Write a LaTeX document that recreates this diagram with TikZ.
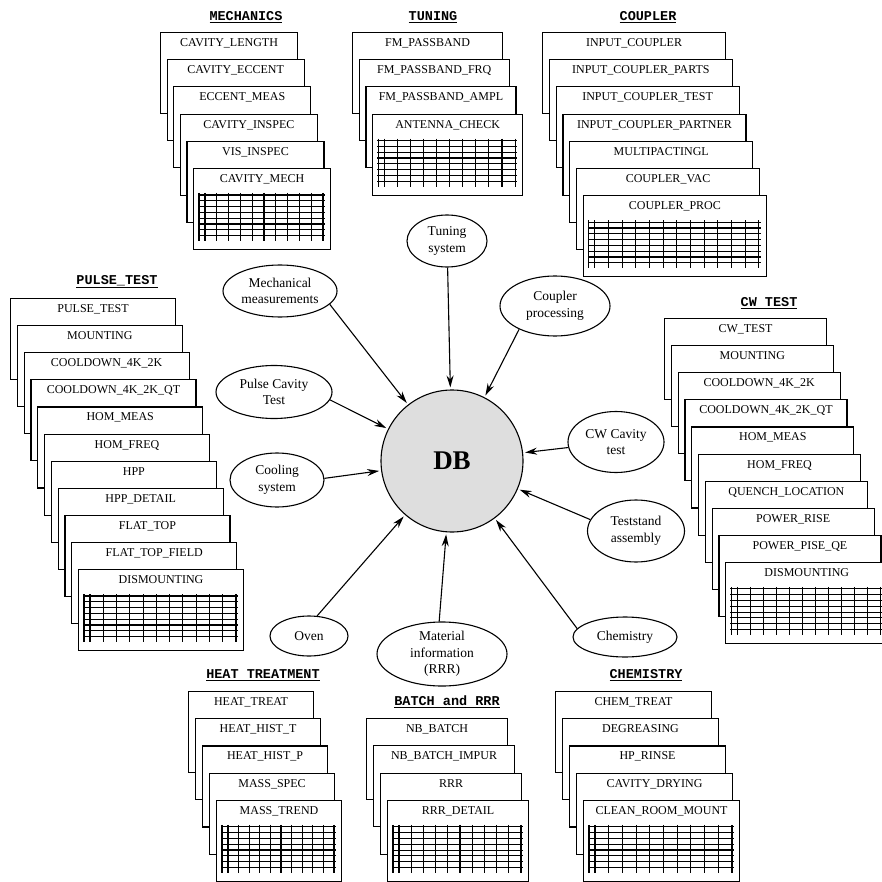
\documentclass[tikz,border=0pt]{standalone}
\usepackage{fontspec}
\setmainfont{Liberation Serif}
\newfontfamily\titlefont{Liberation Mono}
\usetikzlibrary{shapes.geometric, arrows.meta, positioning}

\begin{document}
\begin{tikzpicture}[x=1pt, y=-1pt,
    card/.style={draw, fill=white, line width=1.1pt, anchor=north west, inner sep=3pt,
      minimum height=81pt, text height=11pt, text depth=64pt,
      font=\fontsize{12}{13}\selectfont},
    heading/.style={font=\titlefont\bfseries\fontsize{13.5}{15}\selectfont},
    proc/.style={ellipse, draw, line width=1.1pt, inner sep=0pt, align=center,
      font=\fontsize{13.5}{16.5}\selectfont},
    grid line/.style={line width=1.1pt},
    feed/.style={-{Stealth[length=12pt, width=7pt]}, line width=1.1pt, shorten >=2pt}]
  \useasboundingbox (0,0) rectangle (881,882);

  \node[heading] (mechhead) at (246,17) {\underline{MECHANICS}};
  \foreach \lbl [count=\i from 0] in {CAVITY\_LENGTH, CAVITY\_ECCENT, ECCENT\_MEAS,
      CAVITY\_INSPEC, VIS\_INSPEC, CAVITY\_MECH}
    \node[card, minimum width=137pt] (mechcard\i) at ({160+6.6*\i}, {32+27.2*\i}) {\lbl};

  \node[heading] (tunehead) at (433,17) {\underline{TUNING}};
  \foreach \lbl [count=\i from 0] in {FM\_PASSBAND, FM\_PASSBAND\_FRQ, FM\_PASSBAND\_AMPL,
      ANTENNA\_CHECK}
    \node[card, minimum width=150pt] (tunecard\i) at ({352+6.7*\i}, {32+27.2*\i}) {\lbl};

  \node[heading] (couphead) at (648,17) {\underline{COUPLER}};
  \foreach \lbl [count=\i from 0] in {INPUT\_COUPLER, INPUT\_COUPLER\_PARTS,
      INPUT\_COUPLER\_TEST, INPUT\_COUPLER\_PARTNER, MULTIPACTINGL, COUPLER\_VAC,
      COUPLER\_PROC}
    \node[card, minimum width=183pt] (coupcard\i) at ({542+6.8*\i}, {32+27.2*\i}) {\lbl};

  \node[heading] (pulsehead) at (117,282) {\underline{PULSE\_TEST}};
  \foreach \lbl [count=\i from 0] in {PULSE\_TEST, MOUNTING, COOLDOWN\_4K\_2K,
      COOLDOWN\_4K\_2K\_QT, HOM\_MEAS, HOM\_FREQ, HPP, HPP\_DETAIL, FLAT\_TOP,
      FLAT\_TOP\_FIELD, DISMOUNTING}
    \node[card, minimum width=165pt] (pulsecard\i) at ({10+6.8*\i}, {298+27.1*\i}) {\lbl};

  \node[heading] (cwhead) at (769,303) {\underline{CW TEST}};
  \foreach \lbl [count=\i from 0] in {CW\_TEST, MOUNTING, COOLDOWN\_4K\_2K,
      COOLDOWN\_4K\_2K\_QT, HOM\_MEAS, HOM\_FREQ, QUENCH\_LOCATION, POWER\_RISE,
      POWER\_PISE\_QE, DISMOUNTING}
    \node[card, minimum width=162pt] (cwcard\i) at ({664+6.8*\i}, {318+27.1*\i}) {\lbl};

  \node[heading] (heathead) at (263,675) {\underline{HEAT TREATMENT}};
  \foreach \lbl [count=\i from 0] in {HEAT\_TREAT, HEAT\_HIST\_T, HEAT\_HIST\_P,
      MASS\_SPEC, MASS\_TREND}
    \node[card, minimum width=125pt] (heatcard\i) at ({188+7*\i}, {691+27.2*\i}) {\lbl};

  \node[heading] (batchhead) at (447,702) {\underline{BATCH and RRR}};
  \foreach \lbl [count=\i from 0] in {NB\_BATCH, NB\_BATCH\_IMPUR, RRR, RRR\_DETAIL}
    \node[card, minimum width=141pt] (batchcard\i) at ({366+7*\i}, {718+27.3*\i}) {\lbl};

  \node[heading] (chemhead) at (646,675) {\underline{CHEMISTRY}};
  \foreach \lbl [count=\i from 0] in {CHEM\_TREAT, DEGREASING, HP\_RINSE,
      CAVITY\_DRYING, CLEAN\_ROOM\_MOUNT}
    \node[card, minimum width=156pt] (chemcard\i) at ({555+7*\i}, {691+27.2*\i}) {\lbl};

  \foreach \last/\w/\n in {mechcard5/137/10, tunecard3/150/10, coupcard6/183/12,
      pulsecard10/165/11, cwcard9/162/11, heatcard4/125/10, batchcard3/141/10,
      chemcard4/156/10} {
    \foreach \k in {0,...,7}
      \draw[grid line] ([shift={(5,{27+5.8*\k})}]\last.north west) -- ++({\w-10},0);
    \draw[grid line] ([shift={(6,25)}]\last.north west) -- ++(0,48);
    \foreach \k in {0,...,\n}
      \draw[grid line] ([shift={({12+(\w-19)/\n*\k},25)}]\last.north west) -- ++(0,48);
  }

  \node[circle, draw, fill=black!13, line width=1.1pt, minimum size=142pt,
    font=\bfseries\fontsize{27}{30}\selectfont] (db) at (452,461) {DB};

  \node[proc, minimum width=80pt, minimum height=52pt] (tune) at (447,241) {Tuning\\system};
  \node[proc, minimum width=114pt, minimum height=52pt] (meas) at (280,291) {Mechanical\\measurements};
  \node[proc, minimum width=110pt, minimum height=60pt] (coup) at (555,306) {Coupler\\processing};
  \node[proc, minimum width=116pt, minimum height=53pt] (pulse) at (274,392) {Pulse Cavity\\Test};
  \node[proc, minimum width=94pt, minimum height=54pt] (cool) at (277,480) {Cooling\\system};
  \node[proc, minimum width=96pt, minimum height=61pt] (cw) at (616,442) {CW Cavity\\test};
  \node[proc, minimum width=97pt, minimum height=62pt] (stand) at (636,531) {Teststand\\assembly};
  \node[proc, minimum width=78pt, minimum height=40pt] (oven) at (309,636) {Oven};
  \node[proc, minimum width=130pt, minimum height=64pt] (mat) at (442,654) {Material\\information\\(RRR)};
  \node[proc, minimum width=104pt, minimum height=40pt] (chem) at (625,637) {Chemistry};

  \draw[feed] (tune) -- (db);
  \draw[feed] (meas.-15) -- (db);
  \draw[feed] (coup.213) -- (db);
  \draw[feed] (pulse.-8) -- (db);
  \draw[feed] (cool.2) -- (db);
  \draw[feed] (cw) -- (db);
  \draw[feed] (stand.166) -- (db);
  \draw[feed] (oven.68) -- (db);
  \draw[feed] (mat.95) -- (db);
  \draw[feed] (chem.170) -- (db);
\end{tikzpicture}
\end{document}
